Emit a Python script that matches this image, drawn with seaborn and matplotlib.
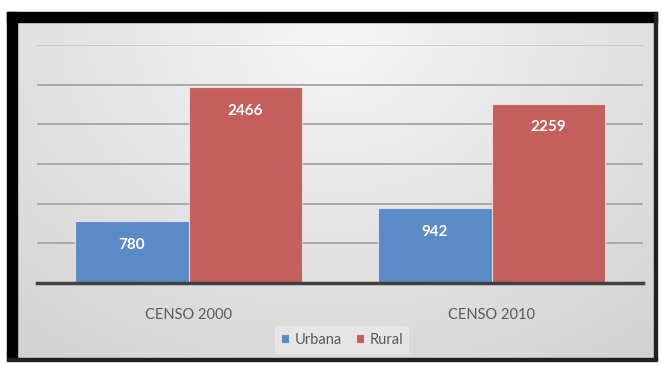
import numpy as np
import pandas as pd
import matplotlib
matplotlib.use("Agg")
import matplotlib.pyplot as plt
import seaborn as sns
from matplotlib.patches import Rectangle

# ---- data ----
categories = ["CENSO 2000", "CENSO 2010"]
urbana = [780, 942]
rural = [2466, 2259]
series_names = ["Urbana", "Rural"]

df = pd.DataFrame({
    "censo": categories * 2,
    "zona": [series_names[0]] * 2 + [series_names[1]] * 2,
    "valor": urbana + rural,
})

sns.set_theme(style="white")
plt.rcParams["font.family"] = ["Lato", "DejaVu Sans"]

W, H = 662, 365
fig = plt.figure(figsize=(W / 100, H / 100), dpi=100)
fig.patch.set_facecolor("white")

# background panel with gradient
bg = fig.add_axes([0, 0, 1, 1], zorder=0)
bg.set_xlim(0, W)
bg.set_ylim(H, 0)
bg.axis("off")
x0, x1, y0, y1 = 16, 654, 21, 359
xx, yy = np.meshgrid(np.linspace(0, 1, 300), np.linspace(0, 1, 200))
r = np.sqrt(((xx - 0.5) / 0.75) ** 2 + ((yy - 0.05) / 1.1) ** 2)
val = 0.965 - 0.13 * np.clip(r, 0, 1.2)
img = np.dstack([val, val, val])
bg.imshow(img, extent=[x0, x1, y1, y0], aspect="auto", interpolation="bilinear", zorder=0)
# frame
bg.add_patch(Rectangle((7, 12), W - 7 - 5, 10, color="black", zorder=2))
bg.add_patch(Rectangle((7, 12), 10, H - 12 - 5, color="black", zorder=2))
bg.add_patch(Rectangle((654, 12), 3, H - 12 - 5, color="#202020", zorder=2))
bg.add_patch(Rectangle((7, 358), W - 7 - 5, 3, color="#202020", zorder=2))

# main axes
left, right, top, bottom = 37, 643, 45, 283
ax = fig.add_axes([left / W, 1 - bottom / H, (right - left) / W, (bottom - top) / H], zorder=1)
ax.patch.set_alpha(0)

palette = {"Urbana": "#5B8BC7", "Rural": "#C55F5D"}
sns.barplot(data=df, x="censo", y="valor", hue="zona", order=categories,
            hue_order=series_names, palette=palette, width=0.75, gap=0,
            saturation=1, edgecolor=(1, 1, 1, 0.6), linewidth=0.8, ax=ax, legend=True, zorder=3)

ax.set_xlim(-0.5, 1.5)
ax.set_ylim(0, 3000)
ax.set_yticks(np.arange(500, 3001, 500))
ax.yaxis.grid(True, color="#A9A9A9", linewidth=1.4)
ax.set_axisbelow(True)
ax.get_ygridlines()[-1].set_alpha(0.45)
ax.tick_params(axis="y", left=False, labelleft=False)
ax.tick_params(axis="x", bottom=False, labelsize=10.5, labelcolor="#595959", pad=12)
ax.set_xlabel("")
ax.set_ylabel("")
for s in ["top", "right", "left"]:
    ax.spines[s].set_visible(False)
ax.spines["bottom"].set_color("#404040")
ax.spines["bottom"].set_linewidth(2.5)
ax.spines["bottom"].set_zorder(5)

for cont in ax.containers:
    ax.bar_label(cont, label_type="edge", padding=-22, color="white",
                 fontweight="bold", fontsize=11)

handles, labels = ax.get_legend_handles_labels()
leg = ax.legend(handles, labels, loc="center", bbox_to_anchor=((342 - left) / (right - left), (bottom - 340) / (bottom - top)),
                ncol=2, frameon=True, fontsize=10.5, handlelength=0.55, handleheight=0.55,
                handletextpad=0.35, columnspacing=1.0, borderpad=0.45, fancybox=False)
leg.get_frame().set_facecolor("#E9E9E9")
leg.get_frame().set_edgecolor("none")
leg.get_frame().set_alpha(0.8)
for t in leg.get_texts():
    t.set_color("#595959")

fig.savefig("out.png", dpi=100)
